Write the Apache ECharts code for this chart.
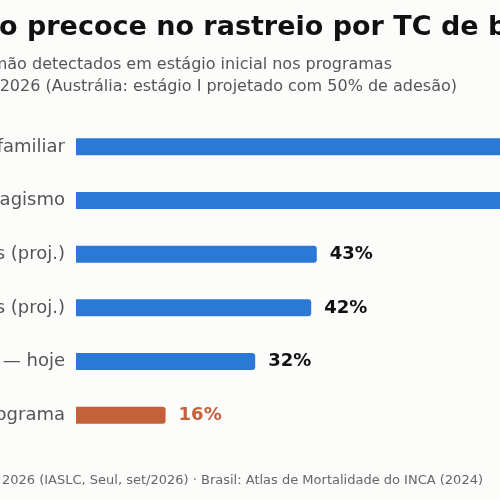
<!DOCTYPE html><html><head><meta charset="utf-8">
<script src="https://cdn.jsdelivr.net/npm/echarts@6/dist/echarts.min.js"></script>
<style>html,body{margin:0;background:#fcfcfb}#c{width:500px;height:500px}</style></head><body><div id="c"></div>
<script>
const categories=["Taiwan — histórico familiar","Taiwan — sem tabagismo","Austrália — 50% adesão, 2 anos (proj.)","Austrália — 70% adesão, 2 anos (proj.)","Reino Unido — hoje","Brasil — sem programa"];
const values=[80,79,43,42,32,16];
const colors=["#2b78d6","#2b78d6","#2b78d6","#2b78d6","#2b78d6","#c4603a"];
const labelColors=["#111","#111","#111","#111","#111","#c4603a"];
const titleText="Diagnóstico precoce no rastreio por TC de baixa dose";
const sub1="% de casos de câncer de pulmão detectados em estágio inicial nos programas";
const sub2="apresentados na WCLC 2026 (Austrália: estágio I projetado com 50% de adesão)";
const footer="Fonte: WCLC 2026 (IASLC, Seul, set/2026) · Brasil: Atlas de Mortalidade do INCA (2024)";
const F='"DejaVu Sans"';
const ctx=document.createElement('canvas').getContext('2d');
ctx.font='bold 27px '+F;
const tx=-ctx.measureText("Diagnóstic").width-1;
const ch=echarts.init(document.getElementById('c'));
ch.setOption({backgroundColor:'#fcfcfb',animation:false,
grid:{left:76,top:120,width:560,height:322,containLabel:false,outerBoundsMode:'none'},
xAxis:{type:'value',min:0,max:100,show:false},
yAxis:{type:'category',data:categories,inverse:true,axisLine:{show:false},axisTick:{show:false},
 axisLabel:{color:'#555',fontSize:18,fontFamily:F,margin:11}},
series:[{type:'bar',barWidth:17,data:values.map((v,i)=>({value:v,itemStyle:{color:colors[i],borderRadius:[0,3,3,0]},
 label:{color:labelColors[i]}})),
 label:{show:true,position:'right',distance:13,fontSize:18,fontWeight:'bold',fontFamily:F,formatter:'{c}%'}}],
graphic:[
 {type:'text',left:tx,top:14,style:{text:titleText,font:'bold 27px '+F,fill:'#111'}},
 {type:'text',x:392,y:65,style:{text:sub1,font:'16px '+F,fill:'#555',align:'right',verticalAlign:'middle'}},
 {type:'text',x:457,y:87,style:{text:sub2,font:'16px '+F,fill:'#555',align:'right',verticalAlign:'middle'}},
 {type:'text',x:483,y:481,style:{text:footer,font:'13px '+F,fill:'#666',align:'right',verticalAlign:'middle'}}
]});
</script></body></html>
